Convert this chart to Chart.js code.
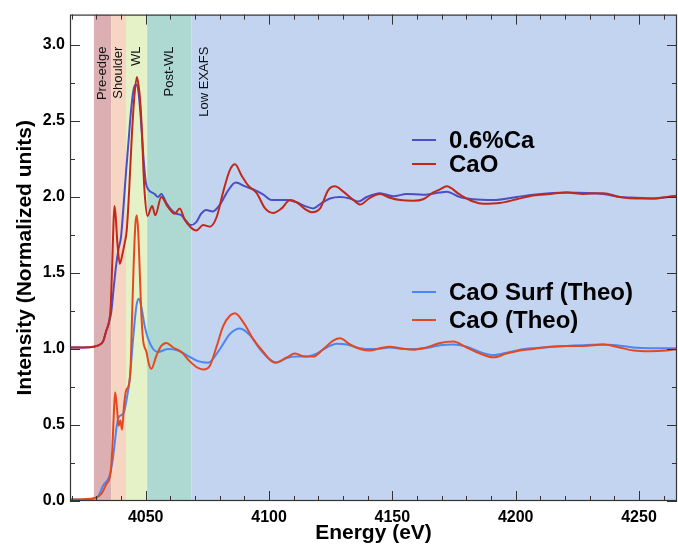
<!DOCTYPE html>
<html>
<head>
<meta charset="utf-8">
<script src="https://cdn.jsdelivr.net/npm/chart.js@4.4.1/dist/chart.umd.min.js"></script>
<style>
  html, body { margin: 0; padding: 0; background: #fff; }
</style>
</head>
<body>
<canvas id="xanesChart" width="678" height="550"></canvas>
<script>
// Energy (eV) / intensity pairs
const caExpEnergy = [4019, 4025, 4029, 4031, 4032.7, 4034, 4035, 4036, 4037, 4038, 4039, 4040, 4041, 4042, 4043, 4044, 4045, 4046, 4047, 4048, 4049, 4050, 4051, 4052, 4053.6, 4055, 4056.3, 4058.4, 4060.4, 4062.4, 4064.4, 4066.5, 4068.3, 4070.5, 4072.5, 4074.5, 4077.2, 4080.1, 4083.5, 4086.5, 4090.3, 4094.3, 4097.7, 4101.1, 4104.4, 4107.2, 4111.2, 4114.6, 4117.9, 4121.3, 4124.7, 4128.8, 4132.8, 4136.2, 4139.6, 4145, 4150.4, 4155.8, 4162.5, 4169.3, 4172, 4177.4, 4182.8, 4190.9, 4200.4, 4207.1, 4220.7, 4235.5, 4242.3, 4249, 4255.8, 4266];
const caExpValues = [1.01, 1.01, 1.015, 1.025, 1.05, 1.12, 1.17, 1.24, 1.40, 1.55, 1.66, 1.74, 1.94, 2.16, 2.36, 2.56, 2.70, 2.74, 2.70, 2.52, 2.28, 2.10, 2.05, 2.035, 2.02, 2.0, 2.02, 1.96, 1.915, 1.89, 1.88, 1.84, 1.815, 1.835, 1.89, 1.915, 1.905, 1.95, 2.045, 2.095, 2.07, 2.045, 2.015, 1.98, 1.98, 1.98, 1.965, 1.94, 1.925, 1.96, 1.99, 2.0, 1.99, 1.97, 2.0, 2.025, 2.005, 2.02, 2.015, 2.03, 2.035, 2.0, 1.985, 1.98, 2.0, 2.015, 2.03, 2.02, 2.0, 1.995, 1.99, 2.01];

const caoExpEnergy = [4019, 4025, 4029, 4031, 4032.7, 4034, 4035, 4035.8, 4036.3, 4036.8, 4037.3, 4037.8, 4038.5, 4039.5, 4040.5, 4041.5, 4042.3, 4043.3, 4044.3, 4045.2, 4046.4, 4047.2, 4047.7, 4048.5, 4049, 4049.6, 4050.7, 4052.6, 4053.9, 4056.3, 4059, 4061.8, 4063.8, 4065.8, 4068.3, 4070.5, 4073.3, 4076, 4078.8, 4081.5, 4084.2, 4086.2, 4088.9, 4091.6, 4095, 4098.4, 4101.7, 4105.1, 4108.5, 4111.2, 4114.6, 4117.3, 4120.7, 4124, 4126.7, 4130.1, 4134.2, 4136.9, 4140.9, 4145, 4149, 4153.1, 4158.5, 4162.5, 4166.6, 4169.3, 4172, 4177.4, 4182.8, 4186.8, 4193.6, 4200.4, 4207.1, 4213.9, 4220.7, 4227.4, 4235.5, 4242.3, 4249, 4255.8, 4261.2, 4266];
const caoExpValues = [1.01, 1.01, 1.015, 1.025, 1.05, 1.12, 1.17, 1.28, 1.50, 1.76, 1.94, 1.88, 1.70, 1.56, 1.62, 1.70, 1.78, 2.05, 2.38, 2.62, 2.79, 2.72, 2.645, 2.42, 2.205, 2.02, 1.875, 1.94, 1.88, 2.0, 1.935, 1.89, 1.925, 1.85, 1.80, 1.78, 1.815, 1.805, 1.87, 2.04, 2.18, 2.215, 2.14, 2.075, 2.025, 1.925, 1.895, 1.925, 1.98, 1.965, 1.92, 1.90, 1.925, 2.045, 2.07, 2.035, 1.98, 1.95, 1.995, 2.02, 1.995, 1.98, 1.975, 1.985, 2.03, 2.05, 2.07, 2.015, 1.97, 1.955, 1.96, 1.985, 2.01, 2.02, 2.03, 2.02, 2.025, 2.0, 1.99, 1.99, 2.0, 2.01];

const surfTheoEnergy = [4019, 4025, 4029, 4030.7, 4032.7, 4035.4, 4036.7, 4038.3, 4039, 4040.1, 4041.2, 4042.5, 4043.5, 4044.9, 4046.2, 4047.2, 4048.2, 4049.6, 4050.9, 4053, 4055, 4059, 4063.1, 4067.1, 4071.2, 4075.3, 4080.1, 4084.2, 4088.2, 4092.3, 4096.3, 4100.4, 4103.1, 4107.2, 4111.2, 4115.3, 4119.3, 4123.4, 4127.4, 4131.5, 4135.5, 4139.6, 4143.6, 4149, 4154.4, 4159.9, 4165.2, 4169.3, 4174.7, 4180.1, 4185.5, 4190.9, 4196.3, 4201.7, 4207.1, 4220.7, 4235.5, 4240.9, 4247.7, 4254.4, 4266];
const surfTheoValues = [0.01, 0.01, 0.015, 0.03, 0.10, 0.17, 0.28, 0.50, 0.55, 0.565, 0.585, 0.69, 0.80, 1.07, 1.28, 1.33, 1.28, 1.15, 1.07, 1.0, 0.98, 1.0, 0.99, 0.955, 0.92, 0.91, 1.0, 1.10, 1.135, 1.09, 1.0, 0.93, 0.91, 0.94, 0.95, 0.95, 0.97, 1.01, 1.035, 1.03, 1.01, 1.0, 1.0, 1.01, 1.0, 1.0, 1.01, 1.025, 1.03, 1.015, 0.98, 0.96, 0.975, 0.995, 1.005, 1.02, 1.03, 1.025, 1.01, 1.005, 1.005];

const caoTheoEnergy = [4019, 4025, 4029.3, 4032, 4034, 4035.8, 4036.5, 4037.1, 4037.6, 4038.3, 4039, 4039.7, 4040.4, 4041.2, 4042.1, 4043.1, 4043.9, 4044.4, 4045.1, 4045.8, 4046.4, 4047, 4047.6, 4048.2, 4048.9, 4050.3, 4051.3, 4052.3, 4054.3, 4056.3, 4058.4, 4061.1, 4064.5, 4067.8, 4070.7, 4073.3, 4076, 4078.8, 4081.4, 4084.2, 4086.2, 4089.6, 4093.6, 4097.7, 4102.4, 4107.2, 4110.5, 4114.6, 4117.9, 4122, 4126, 4128.8, 4132.8, 4136.9, 4140.9, 4145, 4149, 4153.1, 4158.5, 4162.5, 4166.6, 4169.3, 4174.7, 4180.1, 4185.5, 4190.9, 4196.3, 4201.7, 4207.1, 4213.9, 4220.7, 4227.4, 4235.5, 4240.9, 4247.7, 4254.4, 4261.2, 4266];
const caoTheoValues = [0.01, 0.012, 0.02, 0.046, 0.11, 0.19, 0.36, 0.585, 0.715, 0.62, 0.495, 0.53, 0.47, 0.63, 0.73, 0.76, 0.89, 1.18, 1.55, 1.82, 1.88, 1.76, 1.50, 1.24, 1.065, 0.98, 0.90, 0.87, 0.955, 1.02, 1.04, 1.01, 0.98, 0.92, 0.88, 0.865, 0.89, 1.02, 1.15, 1.22, 1.235, 1.175, 1.065, 0.98, 0.91, 0.945, 0.97, 0.95, 0.95, 1.0, 1.055, 1.07, 1.03, 1.0, 0.99, 1.005, 1.015, 1.005, 0.995, 1.005, 1.025, 1.04, 1.05, 1.01, 0.97, 0.945, 0.97, 0.99, 1.0, 1.015, 1.02, 1.02, 1.03, 1.015, 0.99, 0.985, 0.99, 1.0];

// spectral regions (eV)
const regionNames = ['Pre-edge', 'Shoulder', 'WL', 'Post-WL', 'Low EXAFS'];
const regionStart = [4029, 4036, 4042, 4050.6, 4068.6];
const regionEnd = [4036, 4042, 4050.6, 4068.6, 4266];
const regionColors = ['#dcafb2', '#f6d6c2', '#e5f2c7', '#aed9d3', '#c3d4f1'];

const xTickStep = 10;
const yTickStep = 0.25;

function pairs(xs, ys) {
  return xs.map((x, i) => ({ x: x, y: ys[i] }));
}

const FONT = "'Liberation Sans', Arial, Helvetica, sans-serif";

// coloured bands + their labels, behind the curves
const regionsPlugin = {
  id: 'regions',
  beforeDatasetsDraw(chart) {
    const { ctx, chartArea } = chart;
    const xs = chart.scales.x;
    ctx.save();
    ctx.beginPath();
    ctx.rect(chartArea.left, chartArea.top, chartArea.right - chartArea.left, chartArea.bottom - chartArea.top);
    ctx.clip();
    regionNames.forEach((name, i) => {
      const x0 = xs.getPixelForValue(regionStart[i]);
      const x1 = xs.getPixelForValue(regionEnd[i]);
      ctx.fillStyle = regionColors[i];
      ctx.fillRect(x0, chartArea.top, x1 - x0, chartArea.bottom - chartArea.top);
    });
    ctx.fillStyle = '#111';
    ctx.font = '13px ' + FONT;
    ctx.textAlign = 'right';
    ctx.textBaseline = 'middle';
    regionNames.forEach((name, i) => {
      let xc;
      if (i === regionNames.length - 1) {
        xc = xs.getPixelForValue(regionStart[i]) + 13;
      } else {
        xc = (xs.getPixelForValue(regionStart[i]) + xs.getPixelForValue(regionEnd[i])) / 2;
      }
      ctx.save();
      ctx.translate(xc, chartArea.top + 32);
      ctx.rotate(-Math.PI / 2);
      ctx.fillText(name, 0, 0);
      ctx.restore();
    });
    ctx.restore();
  }
};

// box frame with inward ticks on all four sides
const framePlugin = {
  id: 'frame',
  afterDatasetsDraw(chart) {
    const { ctx, chartArea } = chart;
    const { left, right, top, bottom } = chartArea;
    const xs = chart.scales.x, ys = chart.scales.y;
    ctx.save();
    ctx.strokeStyle = '#333';
    ctx.lineWidth = 1;
    ctx.beginPath();
    xs.ticks.forEach(t => {
      const px = Math.round(xs.getPixelForValue(t.value)) + 0.5;
      const len = Math.abs(t.value % 50) < 1e-6 ? 10 : 5;
      ctx.moveTo(px, bottom); ctx.lineTo(px, bottom - len);
      ctx.moveTo(px, top); ctx.lineTo(px, top + len);
    });
    ys.ticks.forEach(t => {
      const py = Math.round(ys.getPixelForValue(t.value)) + 0.5;
      const major = Math.abs((t.value * 2) - Math.round(t.value * 2)) < 1e-6;
      const len = major ? 10 : 5;
      ctx.moveTo(left, py); ctx.lineTo(left + len, py);
      ctx.moveTo(right, py); ctx.lineTo(right - len, py);
    });
    ctx.stroke();
    ctx.lineWidth = 1.2;
    ctx.strokeRect(left + 0.5, top + 0.5, right - left - 1, bottom - top - 1);
    ctx.restore();
  }
};

// two separate legend blocks drawn inside the plot
const legendBlocksPlugin = {
  id: 'legendBlocks',
  afterDraw(chart, args, opts) {
    const { ctx } = chart;
    ctx.save();
    ctx.font = 'bold 24px ' + FONT;
    ctx.textAlign = 'left';
    ctx.textBaseline = 'middle';
    opts.blocks.forEach(block => {
      block.items.forEach((dsIndex, k) => {
        const ds = chart.data.datasets[dsIndex];
        const y = block.rows[k];
        ctx.strokeStyle = ds.borderColor;
        ctx.lineWidth = 2;
        ctx.beginPath();
        ctx.moveTo(block.x, y);
        ctx.lineTo(block.x + 24, y);
        ctx.stroke();
        ctx.fillStyle = '#000';
        ctx.fillText(ds.label, block.x + 37, y + 1);
      });
    });
    ctx.restore();
  }
};

const ctx = document.getElementById('xanesChart').getContext('2d');
const xanesChart = new Chart(ctx, {
  type: 'scatter',
  data: {
    datasets: [
      { label: '0.6%Ca', data: pairs(caExpEnergy, caExpValues), borderColor: '#4a4fc6', order: 2 },
      { label: 'CaO', data: pairs(caoExpEnergy, caoExpValues), borderColor: '#c2281a', order: 1 },
      { label: 'CaO Surf (Theo)', data: pairs(surfTheoEnergy, surfTheoValues), borderColor: '#4b86f4', order: 4 },
      { label: 'CaO (Theo)', data: pairs(caoTheoEnergy, caoTheoValues), borderColor: '#e6481e', order: 3 }
    ]
  },
  options: {
    responsive: false,
    animation: false,
    devicePixelRatio: 1,
    showLine: true,
    layout: { padding: { top: 14, right: 1, left: 0, bottom: 0 } },
    elements: {
      point: { radius: 0, hoverRadius: 0 },
      line: { borderWidth: 2, cubicInterpolationMode: 'monotone', fill: false }
    },
    plugins: {
      legend: { display: false },
      tooltip: { enabled: false },
      legendBlocks: {
        blocks: [
          { x: 412, rows: [140, 164], items: [0, 1] },
          { x: 412, rows: [292, 320], items: [2, 3] }
        ]
      }
    },
    scales: {
      x: {
        type: 'linear',
        min: 4019.3,
        max: 4265.4,
        afterFit: s => { s.height = 49; },
        grid: { display: false, drawTicks: false },
        border: { display: false },
        ticks: {
          stepSize: xTickStep,
          includeBounds: false,
          autoSkip: false,
          maxRotation: 0,
          padding: 7,
          color: '#000',
          font: { family: FONT, size: 16, weight: 'bold' },
          callback: v => (Math.abs(v % 50) < 1e-6 ? String(v) : '')
        },
        title: {
          display: true,
          text: 'Energy (eV)',
          color: '#000',
          font: { family: FONT, size: 21, weight: 'bold' },
          padding: { top: 0, bottom: 4 }
        }
      },
      y: {
        min: 0,
        max: 3.2,
        afterFit: s => { s.width = 70; },
        grid: { display: false, drawTicks: false },
        border: { display: false },
        ticks: {
          stepSize: yTickStep,
          includeBounds: false,
          autoSkip: false,
          padding: 5,
          color: '#000',
          font: { family: FONT, size: 16, weight: 'bold' },
          callback: v => (Math.abs(v * 2 - Math.round(v * 2)) < 1e-6 ? v.toFixed(1) : '')
        },
        title: {
          display: true,
          text: 'Intensity (Normalized units)',
          color: '#000',
          font: { family: FONT, size: 21, weight: 'bold' },
          padding: { top: 13, bottom: 0 }
        }
      }
    }
  },
  plugins: [regionsPlugin, framePlugin, legendBlocksPlugin]
});
</script>
</body>
</html>
